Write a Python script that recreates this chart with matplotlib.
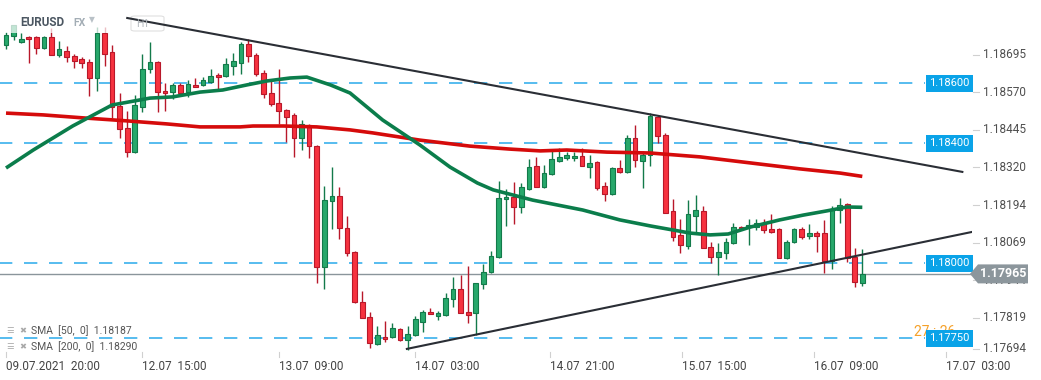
import matplotlib.pyplot as plt
import matplotlib.transforms as mtransforms
from matplotlib.patches import Polygon, Rectangle, FancyBboxPatch
import numpy as np

plt.rcParams['font.family'] = ['Roboto', 'DejaVu Sans']

# EURUSD H1 candles, from 09.07.2021 20:00
opens = [
    1.18728, 1.18758, 1.18738, 1.18755, 1.18755, 1.18718, 1.18755, 1.18695, 1.18708, 1.18691,
    1.18681, 1.18671, 1.18618, 1.18768, 1.18705, 1.18525, 1.18451, 1.18371, 1.18521, 1.18648,
    1.18671, 1.18575, 1.18571, 1.18595, 1.18571, 1.18595, 1.18595, 1.18605, 1.18628, 1.18625,
    1.18658, 1.18668, 1.18731, 1.18695, 1.18635, 1.18568, 1.18535, 1.18511, 1.18495, 1.18418,
    1.18461, 1.18391, 1.17988, 1.18208, 1.18225, 1.18118, 1.18038, 1.17871, 1.17821, 1.17731,
    1.17755, 1.17755, 1.17781, 1.17745, 1.17761, 1.17805, 1.17838, 1.17825, 1.17828, 1.17881,
    1.17915, 1.17838, 1.17835, 1.17931, 1.17971, 1.18021, 1.18215, 1.18221, 1.18188, 1.18248,
    1.18325, 1.18255, 1.18298, 1.18341, 1.18351, 1.18351, 1.18358, 1.18321, 1.18338, 1.18258,
    1.18231, 1.18318, 1.18305, 1.18418, 1.18341, 1.18361, 1.18488, 1.18428, 1.18175, 1.18095,
    1.18058, 1.18158, 1.18175, 1.18055, 1.18021, 1.18035, 1.18068, 1.18121, 1.18121, 1.18121,
    1.18135, 1.18115, 1.18115, 1.18018, 1.18071, 1.18115, 1.18091, 1.18101, 1.18101, 1.18008,
    1.18178, 1.18198, 1.18021, 1.17935,
]
highs = [
    1.18771, 1.18795, 1.18768, 1.18758, 1.18758, 1.18758, 1.18785, 1.18741, 1.18725, 1.18698,
    1.18688, 1.18681, 1.18788, 1.18788, 1.18728, 1.18568, 1.18508, 1.18561, 1.18698, 1.18738,
    1.18675, 1.18601, 1.18601, 1.18601, 1.18611, 1.18618, 1.18621, 1.18648, 1.18635, 1.18685,
    1.18701, 1.18738, 1.18748, 1.18701, 1.18645, 1.18611, 1.18648, 1.18515, 1.18501, 1.18478,
    1.18465, 1.18395, 1.18258, 1.18321, 1.18255, 1.18158, 1.18041, 1.17908, 1.17838, 1.17791,
    1.17808, 1.17801, 1.17785, 1.17791, 1.17825, 1.17845, 1.17851, 1.17841, 1.17901, 1.17955,
    1.17961, 1.17991, 1.17935, 1.17998, 1.18041, 1.18275, 1.18248, 1.18271, 1.18268, 1.18348,
    1.18355, 1.18328, 1.18381, 1.18385, 1.18371, 1.18371, 1.18385, 1.18361, 1.18341, 1.18271,
    1.18321, 1.18345, 1.18428, 1.18461, 1.18375, 1.18501, 1.18491, 1.18435, 1.18215, 1.18148,
    1.18211, 1.18228, 1.18191, 1.18071, 1.18068, 1.18085, 1.18135, 1.18125, 1.18148, 1.18148,
    1.18148, 1.18165, 1.18118, 1.18078, 1.18118, 1.18121, 1.18131, 1.18108, 1.18145, 1.18191,
    1.18218, 1.18201, 1.18051, 1.18048,
]
lows = [
    1.18715, 1.18745, 1.18735, 1.18668, 1.18698, 1.18715, 1.18695, 1.18688, 1.18671, 1.18651,
    1.18651, 1.18558, 1.18575, 1.18658, 1.18485, 1.18418, 1.18355, 1.18368, 1.18505, 1.18635,
    1.18505, 1.18508, 1.18548, 1.18561, 1.18555, 1.18588, 1.18591, 1.18601, 1.18581, 1.18621,
    1.18628, 1.18631, 1.18671, 1.18625, 1.18551, 1.18525, 1.18465, 1.18405, 1.18355, 1.18378,
    1.18351, 1.17935, 1.17915, 1.18115, 1.18081, 1.18025, 1.17868, 1.17818, 1.17718, 1.17728,
    1.17738, 1.17752, 1.17741, 1.17711, 1.17758, 1.17771, 1.17831, 1.17811, 1.17825, 1.17855,
    1.17835, 1.17801, 1.17761, 1.17915, 1.17968, 1.18018, 1.18125, 1.18131, 1.18168, 1.18245,
    1.18255, 1.18251, 1.18295, 1.18338, 1.18345, 1.18341, 1.18325, 1.18285, 1.18245, 1.18208,
    1.18228, 1.18301, 1.18301, 1.18321, 1.18251, 1.18325, 1.18401, 1.18168, 1.18075, 1.18035,
    1.18048, 1.18105, 1.18051, 1.18001, 1.17961, 1.18015, 1.18065, 1.18111, 1.18061, 1.18111,
    1.18101, 1.18101, 1.18018, 1.18015, 1.18068, 1.18081, 1.18081, 1.18038, 1.17968, 1.17981,
    1.18135, 1.18005, 1.17921, 1.17925,
]
closes = [
    1.18761, 1.18795, 1.18748, 1.18748, 1.18718, 1.18755, 1.18695, 1.18715, 1.18688, 1.18675,
    1.18668, 1.18618, 1.18768, 1.18698, 1.18521, 1.18448, 1.18371, 1.18528, 1.18648, 1.18671,
    1.18571, 1.18568, 1.18595, 1.18568, 1.18598, 1.18588, 1.18611, 1.18625, 1.18621, 1.18665,
    1.18675, 1.18731, 1.18691, 1.18631, 1.18565, 1.18531, 1.18508, 1.18488, 1.18418, 1.18465,
    1.18391, 1.17988, 1.18211, 1.18225, 1.18118, 1.18035, 1.17871, 1.17818, 1.17735, 1.17761,
    1.17748, 1.17785, 1.17745, 1.17765, 1.17815, 1.17838, 1.17831, 1.17835, 1.17885, 1.17915,
    1.17835, 1.17828, 1.17935, 1.17971, 1.18025, 1.18218, 1.18221, 1.18188, 1.18255, 1.18321,
    1.18255, 1.18301, 1.18348, 1.18355, 1.18361, 1.18358, 1.18325, 1.18335, 1.18251, 1.18231,
    1.18318, 1.18305, 1.18418, 1.18345, 1.18361, 1.18491, 1.18425, 1.18168, 1.18088, 1.18061,
    1.18165, 1.18178, 1.18051, 1.18021, 1.18038, 1.18071, 1.18121, 1.18115, 1.18128, 1.18135,
    1.18111, 1.18105, 1.18018, 1.18071, 1.18115, 1.18088, 1.18101, 1.18091, 1.18008, 1.18181,
    1.18195, 1.18018, 1.17938, 1.17965,
]

# moving averages, read at candle positions
sma50_x = [0, 3.6, 8.8, 14, 19, 22, 25.6, 28.6, 31.8, 34.4, 37.5, 39.7, 42.8, 45.4, 49.7,
           54.6, 58.6, 62.2, 64.3, 69.5, 76.1, 81, 85, 90.3, 92.9, 95.3, 98.2, 102.1,
           105.2, 108.3, 111, 113]
sma50_y = [1.18318, 1.18378, 1.18458, 1.18528, 1.18551, 1.18555, 1.18571, 1.18578, 1.18595,
           1.18608, 1.18618, 1.18621, 1.18595, 1.18568, 1.18478, 1.18395, 1.18321, 1.18268,
           1.18245, 1.18211, 1.18178, 1.18145, 1.18125, 1.18101, 1.18095, 1.18098, 1.18121,
           1.18145, 1.18161, 1.18175, 1.18188, 1.18187]
sma200_x = [0, 4.9, 10.2, 16, 21.2, 25.6, 30.9, 32.6, 36.6, 41, 45.4, 48.4, 54.6, 61.2, 66.5,
            70.5, 74, 79.3, 85, 91.6, 98.2, 104.8, 110.1, 113]
sma200_y = [1.18501, 1.18495, 1.18485, 1.18475, 1.18465, 1.18455, 1.18455, 1.18458, 1.18458,
            1.18455, 1.18445, 1.18435, 1.18411, 1.18391, 1.18381, 1.18375, 1.18378, 1.18371,
            1.18368, 1.18355, 1.18335, 1.18315, 1.18301, 1.18290]

upper_trend_x = [16, 126.2]
upper_trend_y = [1.18818, 1.18305]
lower_trend_x = [52.9, 127.5]
lower_trend_y = [1.17715, 1.18105]

levels = [1.18600, 1.18400, 1.18000, 1.17750]
last_price = 1.17965
price_ticks = [1.18695, 1.18570, 1.18445, 1.18320, 1.18194, 1.18069, 1.17944, 1.17819, 1.17694]
time_ticks = [0, 18, 36, 54, 71.8, 89.2, 106.6, 124]
time_labels = ["09.07.2021  20:00", "12.07  15:00", "13.07  09:00", "14.07  03:00",
               "14.07  21:00", "15.07  15:00", "16.07  09:00", "17.07  03:00"]

W, H = 1041, 380
fig = plt.figure(figsize=(W / 100, H / 100), dpi=100)
ax = fig.add_axes([0, 28 / H, 972 / W, 352 / H])
step = 7.578  # pixels per candle
ax.set_xlim(-6 / step, 966 / step)
ax.set_ylim(1.18878 - 352 / 30000, 1.18878)
ax.axis('off')

o = np.array(opens)
c = np.array(closes)
x = np.arange(len(o))
up = c >= o
body_col = np.where(up, '#27a86b', '#f6323f')
edge_col = np.where(up, '#137a4a', '#b8182a')

# candles
ax.vlines(x, lows, highs, colors=edge_col, lw=1.0, zorder=3)
ax.bar(x, np.maximum(np.abs(c - o), 0.00004), bottom=np.minimum(o, c), width=0.62,
       color=body_col, edgecolor=edge_col, linewidth=0.8, zorder=4)

# levels and current price
ax.hlines(levels, -1, 919 / step, colors='#3ab0ec', lw=1.2, linestyles=(0, (8, 7)), zorder=2)
ax.axhline(last_price, color='#8a959b', lw=1.0, zorder=2)

# moving averages
ax.plot(sma200_x, sma200_y, color='#d50b0b', lw=2.6, zorder=5, solid_capstyle='butt')
ax.plot(sma50_x, sma50_y, color='#0b7d4b', lw=2.6, zorder=5, solid_capstyle='butt')

# trend lines
ax.plot(upper_trend_x, upper_trend_y, color='#2a2e35', lw=1.5, zorder=6)
ax.plot(lower_trend_x, lower_trend_y, color='#2a2e35', lw=1.5, zorder=6)

# faded header panel
ax.add_patch(Rectangle((0, 1 - 33 / H), 118 / W, 33 / H, transform=fig.transFigure,
                       fc='white', ec='none', alpha=0.72, zorder=5.5))
fig.text(20 / W, 1 - 22 / H, "EURUSD", fontsize=8.5, fontweight='bold', color='#4b5661',
         va='center', zorder=7)
fig.text(73 / W, 1 - 23 / H, "FX", fontsize=7.5, fontweight='bold', color='#a3adb5',
         va='center', zorder=7)
fig.text(89 / W, 1 - 20 / H, "▼", fontsize=5.5, color='#b9c1c7', va='center', zorder=7)
ax.add_patch(FancyBboxPatch((131 / W, 1 - 31 / H), 33 / W, 15 / H, transform=fig.transFigure,
                            boxstyle='round,pad=0,rounding_size=0.004', fc='white',
                            ec='#e0e0e0', lw=0.8, zorder=5.6))
fig.text(136 / W, 1 - 24 / H, "H1", fontsize=7.5, color='#b0b6bb', va='center', zorder=5.7)

# legend
for row, txt in enumerate(["SMA  [50,  0]  1.18187", "SMA  [200,  0]  1.18290"]):
    yy = 1 - (331 + 16 * row) / H
    fig.text(6 / W, yy, "☰", fontsize=6, color='#a8a8a8', va='center', zorder=7)
    fig.text(19 / W, yy, "✖", fontsize=6, color='#a8a8a8', va='center', zorder=7)
    fig.text(31 / W, yy, txt, fontsize=7.5, color='#555555', va='center', zorder=7)

# right price axis
ry = mtransforms.blended_transform_factory(fig.transFigure, ax.transData)
ybot = ax.get_ylim()[0]
for v in price_ticks:
    yv = max(v, ybot + 0.0001)
    ax.plot([973 / W, 979 / W], [yv, yv], transform=ry, color='#d0d0d0', lw=0.8, clip_on=False)
    ax.text(983 / W, yv, f"{v:.5f}", transform=ry, fontsize=8.5, color='#4f4f4f',
            va='center', ha='left', clip_on=False, zorder=3)

# orange countdown (mostly hidden)
ax.text(914 / W, 1.17750 + 0.0002, "27 : 26", transform=ry, fontsize=10, color='#f5a12a',
        va='center', ha='left', clip_on=False, zorder=7)

for v in levels:
    ax.text(929 / W, v, f"{v:.5f}", transform=ry, fontsize=8, color='white', va='center',
            ha='left', clip_on=False, zorder=8,
            bbox=dict(boxstyle='square,pad=0.3', fc='#0aa3e8', ec='none'))

# current price tag
fig.canvas.draw()
yd = ax.transData.transform((0, last_price))[1]
tag = Polygon([(970, yd), (978, yd + 9.5), (1028, yd + 9.5), (1028, yd - 9.5), (978, yd - 9.5)],
              closed=True, fc='#8c969c', ec='none', transform=mtransforms.IdentityTransform(),
              zorder=9)
fig.add_artist(tag)
fig.text(1003 / W, yd / H, f"{last_price:.5f}", fontsize=9, fontweight='bold', color='white',
         ha='center', va='center', zorder=10)

# time axis
tx = mtransforms.blended_transform_factory(ax.transData, fig.transFigure)
for pos, lab in zip(time_ticks, time_labels):
    ax.plot([pos, pos], [1 - 352 / H, 1 - 357 / H], transform=tx, color='#d0d0d0', lw=0.8,
            clip_on=False)
    ax.text(pos, 1 - 366 / H, lab, transform=tx, fontsize=8.5, color='#444444',
            ha='left', va='center', clip_on=False)

fig.savefig('out.png', dpi=100, facecolor='white')
